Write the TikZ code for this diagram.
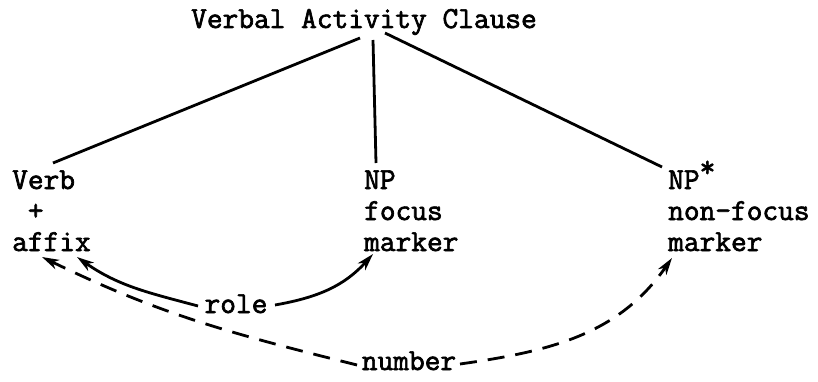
\documentclass[tikz,border=0pt]{standalone}
\usepackage{fontspec}
\newfontfamily\twfont{Latin Modern Mono}[FakeBold=2.2]
\usetikzlibrary{arrows.meta}
\begin{document}
\begin{tikzpicture}[x=1pt,y=-1pt,
  lbl/.style={inner sep=0pt,anchor=base west,font=\twfont\fontsize{30.5}{31}\selectfont},
  tree/.style={line width=2.8pt},
  rel/.style={line width=2.8pt,-{Stealth[length=17pt,width=10pt,inset=5pt]}},
  reldash/.style={rel,dash pattern=on 17pt off 11pt}]
\useasboundingbox (0,0) rectangle (818,382);
\node[lbl,anchor=base] (title) at (364,28) {Verbal Activity Clause};
\node[lbl] (verb) at (12,189) {Verb};
\node[lbl] (plus) at (12,220) {\phantom{V}+};
\node[lbl] (affix) at (12,251) {affix};
\node[lbl] (np) at (364,189) {NP};
\node[lbl] (focus) at (364,220) {focus};
\node[lbl] (markerA) at (364,251) {marker};
\node[lbl] (npstar) at (668,189) {NP\raisebox{0.4em}{*}};
\node[lbl] (nonfocus) at (668,220) {non-focus};
\node[lbl] (markerB) at (668,251) {marker};
\node[lbl,anchor=base] (role) at (236,313) {role};
\node[lbl,anchor=base] (number) at (409,370) {number};
% tree lines
\draw[tree] ([shift={(-4,10)}]title.base) -- ([shift={(41,-26)}]verb.base west);
\draw[tree] ([shift={(9,12)}]title.base) -- ([shift={(12,-26)}]np.base west);
\draw[tree] ([shift={(21,5)}]title.base) -- ([shift={(-6,-22)}]npstar.base west);
% role arrows
\draw[rel] ([shift={(-38,-7)}]role.base) to[out=165,in=-35] ([shift={(65,6)}]affix.base west);
\draw[rel] ([shift={(39,-8)}]role.base) to[out=10,in=228] ([shift={(9,3)}]markerA.base west);
% number arrows
\draw[reldash] ([shift={(-52,-5)}]number.base) to[out=166,in=-26] ([shift={(30,6)}]affix.base west);
\draw[reldash] ([shift={(51,-6)}]number.base) to[out=8,in=235] ([shift={(4,7)}]markerB.base west);
\end{tikzpicture}
\end{document}
